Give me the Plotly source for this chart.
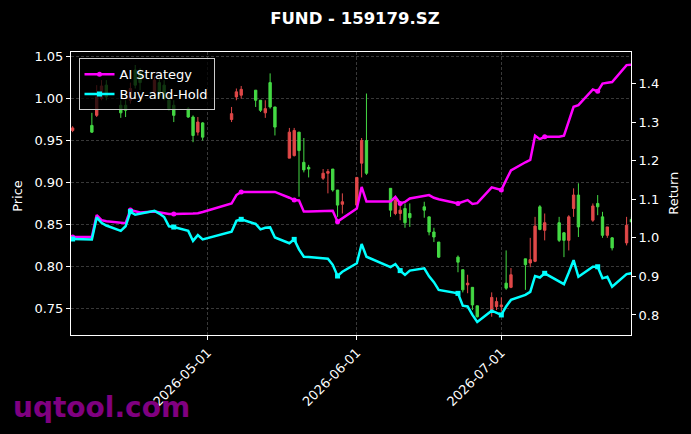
import plotly.graph_objects as go

dates = [
    "2026-04-03", "2026-04-07", "2026-04-08", "2026-04-09", "2026-04-10",
    "2026-04-13", "2026-04-14", "2026-04-15", "2026-04-16", "2026-04-17",
    "2026-04-20", "2026-04-21", "2026-04-22", "2026-04-23", "2026-04-24",
    "2026-04-27", "2026-04-28", "2026-04-29", "2026-04-30",
    "2026-05-06", "2026-05-07", "2026-05-08",
    "2026-05-11", "2026-05-12", "2026-05-13", "2026-05-14", "2026-05-15",
    "2026-05-18", "2026-05-19", "2026-05-20", "2026-05-21", "2026-05-22",
    "2026-05-25", "2026-05-26", "2026-05-27", "2026-05-28", "2026-05-29",
    "2026-06-01", "2026-06-02", "2026-06-03",
    "2026-06-08", "2026-06-09", "2026-06-10", "2026-06-11", "2026-06-12",
    "2026-06-15", "2026-06-16", "2026-06-17", "2026-06-18",
    "2026-06-22", "2026-06-23", "2026-06-24", "2026-06-25", "2026-06-26",
    "2026-06-29", "2026-06-30", "2026-07-01", "2026-07-02", "2026-07-03",
    "2026-07-06", "2026-07-07", "2026-07-08", "2026-07-09", "2026-07-10",
    "2026-07-13", "2026-07-14", "2026-07-15", "2026-07-16", "2026-07-17",
    "2026-07-20", "2026-07-21", "2026-07-22", "2026-07-23", "2026-07-24",
    "2026-07-27", "2026-07-28",
]

open_ = [
    0.965, 0.960, 1.002, 1.015, 1.002, 0.983, 0.986, 1.012, 1.016, 1.019,
    1.022, 1.004, 1.000, 0.988, 0.980, 0.978, 0.956, 0.972, 0.954,
    0.982, 1.008, 1.011,
    0.998, 0.986, 0.988, 0.990, 0.966,
    0.960, 0.962, 0.938, 0.915, 0.916,
    0.911, 0.913, 0.891, 0.873, 0.877,
    0.906, 0.950, 0.911,
    0.867, 0.879, 0.867, 0.852, 0.858,
    0.867, 0.841, 0.835, 0.811,
    0.805, 0.772, 0.780, 0.754, 0.740,
    0.763, 0.758, 0.754, 0.774, 0.790,
    0.802, 0.808, 0.848, 0.844, 0.852,
    0.831, 0.831, 0.859, 0.885, 0.847,
    0.872, 0.871, 0.837, 0.847, 0.822,
    0.849, 0.853,
]
close = [
    0.962, 0.968, 0.980, 1.000, 1.016, 0.992, 0.992, 0.998, 1.034, 1.031,
    1.008, 1.019, 1.016, 0.998, 0.992, 0.988, 0.978, 0.960, 0.971,
    0.975, 1.002, 1.004,
    1.010, 0.998, 0.983, 1.019, 0.990,
    0.929, 0.932, 0.960, 0.924, 0.918,
    0.905, 0.911, 0.916, 0.891, 0.874,
    0.873, 0.923, 0.950,
    0.893, 0.863, 0.863, 0.869, 0.863,
    0.871, 0.859, 0.841, 0.829,
    0.811, 0.796, 0.778, 0.775, 0.753,
    0.746, 0.752, 0.752, 0.780, 0.775,
    0.809, 0.804, 0.806, 0.871, 0.843,
    0.852, 0.840, 0.831, 0.869, 0.885,
    0.855, 0.875, 0.859, 0.837, 0.834,
    0.828, 0.856,
]
high = [
    0.967, 0.983, 1.016, 1.022, 1.022, 0.998, 0.998, 1.019, 1.040, 1.036,
    1.026, 1.024, 1.022, 1.004, 0.998, 0.990, 0.980, 0.978, 0.972,
    0.990, 1.012, 1.015,
    1.010, 0.998, 0.998, 1.030, 0.990,
    0.965, 0.965, 0.960, 0.953, 0.921,
    0.916, 0.916, 0.916, 0.891, 0.887,
    0.906, 0.953, 1.006,
    0.893, 0.883, 0.873, 0.875, 0.875,
    0.877, 0.859, 0.846, 0.829,
    0.813, 0.796, 0.790, 0.775, 0.753,
    0.769, 0.763, 0.763, 0.819, 0.798,
    0.809, 0.834, 0.859, 0.873, 0.863,
    0.859, 0.841, 0.861, 0.893, 0.899,
    0.875, 0.885, 0.865, 0.847, 0.835,
    0.859, 0.859,
]
low = [
    0.960, 0.959, 0.978, 0.998, 0.998, 0.977, 0.978, 0.994, 1.012, 1.010,
    1.004, 1.000, 0.998, 0.986, 0.972, 0.977, 0.948, 0.956, 0.950,
    0.972, 0.998, 1.000,
    0.990, 0.984, 0.977, 0.988, 0.956,
    0.929, 0.931, 0.883, 0.912, 0.906,
    0.903, 0.887, 0.889, 0.859, 0.863,
    0.871, 0.906, 0.909,
    0.859, 0.861, 0.855, 0.846, 0.847,
    0.858, 0.837, 0.829, 0.810,
    0.793, 0.769, 0.768, 0.748, 0.739,
    0.740, 0.748, 0.746, 0.772, 0.774,
    0.772, 0.799, 0.805, 0.843, 0.831,
    0.829, 0.811, 0.819, 0.859, 0.835,
    0.853, 0.861, 0.834, 0.834, 0.819,
    0.825, 0.853,
]

ai_strategy = [
    1.002, 1.002, 1.059, 1.046, 1.043, 1.038, 1.038, 1.072, 1.068, 1.066,
    1.068, 1.066, 1.063, 1.062, 1.062, 1.062, 1.063, 1.064, 1.067,
    1.089, 1.111, 1.119,
    1.119, 1.119, 1.119, 1.119, 1.119,
    1.104, 1.098, 1.097, 1.068, 1.068,
    1.069, 1.069, 1.070, 1.042, 1.050,
    1.076, 1.132, 1.094,
    1.094, 1.106, 1.089, 1.093, 1.102,
    1.110, 1.111, 1.104, 1.100,
    1.089, 1.094, 1.098, 1.088, 1.090,
    1.131, 1.127, 1.124, 1.150, 1.175,
    1.196, 1.202, 1.265, 1.256, 1.262,
    1.262, 1.265, 1.300, 1.340, 1.344,
    1.385, 1.380, 1.400, 1.402, 1.404,
    1.448, 1.449,
]
buy_hold = [
    0.997, 0.996, 1.053, 1.039, 1.032, 1.018, 1.030, 1.068, 1.060, 1.062,
    1.070, 1.063, 1.054, 1.030, 1.028, 1.018, 0.992, 1.007, 0.996,
    1.016, 1.044, 1.048,
    1.036, 1.022, 1.026, 1.027, 1.001,
    0.986, 0.996, 0.970, 0.951, 0.950,
    0.948, 0.946, 0.930, 0.901, 0.912,
    0.934, 0.984, 0.951,
    0.924, 0.932, 0.915, 0.904, 0.915,
    0.921, 0.900, 0.885, 0.865,
    0.856, 0.824, 0.822, 0.800, 0.782,
    0.811, 0.805, 0.800, 0.822, 0.839,
    0.852, 0.860, 0.901, 0.897, 0.908,
    0.886, 0.880, 0.910, 0.942, 0.899,
    0.925, 0.925, 0.895, 0.899, 0.873,
    0.906, 0.908,
]

price_ticks = [0.75, 0.80, 0.85, 0.90, 0.95, 1.00, 1.05]
return_ticks = [0.8, 0.9, 1.0, 1.1, 1.2, 1.3, 1.4]
date_ticks = ["2026-05-01", "2026-06-01", "2026-07-01"]

FONT = "DejaVu Sans"
MAG = "#ff00ff"
CYA = "#00ffff"
GREEN = "#44d944"
RED = "#e04848"
MARK_EVERY = 7

fig = go.Figure()

fig.add_trace(go.Candlestick(
    x=dates, open=open_, high=high, low=low, close=close,
    increasing=dict(line=dict(color=GREEN, width=1), fillcolor=GREEN),
    decreasing=dict(line=dict(color=RED, width=1), fillcolor=RED),
    whiskerwidth=0, showlegend=False, yaxis="y", hoverinfo="skip",
))

for name, vals, col, sym in [("AI Strategy", ai_strategy, MAG, "circle"),
                              ("Buy-and-Hold", buy_hold, CYA, "square")]:
    fig.add_trace(go.Scatter(
        x=dates, y=vals, mode="lines", yaxis="y2",
        line=dict(color=col, width=2.5), showlegend=False, hoverinfo="skip",
    ))
    fig.add_trace(go.Scatter(
        x=dates[::MARK_EVERY], y=vals[::MARK_EVERY], mode="markers", yaxis="y2",
        marker=dict(color=col, size=5, symbol=sym), showlegend=False,
        hoverinfo="skip",
    ))
    fig.add_trace(go.Scatter(
        x=[None], y=[None], mode="lines+markers", yaxis="y2", name=name,
        line=dict(color=col, width=2.5),
        marker=dict(color=col, size=5, symbol=sym),
    ))

grid = "rgba(140,140,140,0.4)"
fig.update_layout(
    width=691, height=434,
    paper_bgcolor="black", plot_bgcolor="black",
    margin=dict(l=70.5, r=60.3, t=51.7, b=99, pad=0),
    font=dict(family=FONT, color="white", size=13),
    hovermode=False,
    title=dict(text="<b>FUND - 159179.SZ</b>", x=0.507, xref="paper",
               y=0.9585, yref="container", xanchor="center", yanchor="middle",
               font=dict(family=FONT, size=16.5, color="white")),
    xaxis=dict(
        type="date", range=["2026-04-02 16:00", "2026-07-27 22:00"],
        rangeslider=dict(visible=False),
        tickvals=date_ticks, tickformat="%Y-%m-%d", tickangle=-45,
        ticks="outside", ticklen=4, tickcolor="white",
        showgrid=True, gridcolor=grid, griddash="3px,2px", gridwidth=0.7,
        showline=True, linecolor="white", linewidth=1, mirror=True,
        zeroline=False, tickfont=dict(size=13, color="white"),
    ),
    yaxis=dict(
        range=[0.7182, 1.0555], tickvals=price_ticks, tickformat=".2f",
        ticks="outside", ticklen=4, tickcolor="white",
        showgrid=True, gridcolor=grid, griddash="3px,2px", gridwidth=0.7,
        showline=True, linecolor="white", linewidth=1, mirror=True,
        zeroline=False, tickfont=dict(size=13, color="white"),
    ),
    yaxis2=dict(
        overlaying="y", side="right", range=[0.748, 1.482],
        tickvals=return_ticks, tickformat=".1f",
        ticks="outside", ticklen=4, tickcolor="white",
        showgrid=False, showline=True, linecolor="white", linewidth=1,
        zeroline=False, tickfont=dict(size=13, color="white"),
    ),
    legend=dict(
        x=0.0134, y=0.978, xanchor="left", yanchor="top",
        bgcolor="rgba(0,0,0,0.75)", bordercolor="#cccccc", borderwidth=1,
        font=dict(family=FONT, size=13, color="white"),
        tracegroupgap=0, itemwidth=30,
    ),
    annotations=[
        dict(text="Price", xref="paper", yref="paper", x=-0.0955, y=0.49,
             textangle=-90, showarrow=False, xanchor="center", yanchor="middle",
             font=dict(family=FONT, size=13, color="white")),
        dict(text="Return", xref="paper", yref="paper", x=1.0755, y=0.5,
             textangle=-90, showarrow=False, xanchor="center", yanchor="middle",
             font=dict(family=FONT, size=13, color="white")),
        dict(text="<b>uqtool.com</b>", xref="paper", yref="paper", x=-0.108,
             y=-0.2577, xanchor="left", yanchor="middle", showarrow=False,
             font=dict(family=FONT, size=28, color="#800080")),
    ],
)

fig.write_html(
    "out.html",
    config={"displayModeBar": False},
    post_script="document.body.style.margin='0';document.body.style.background='black';",
)
